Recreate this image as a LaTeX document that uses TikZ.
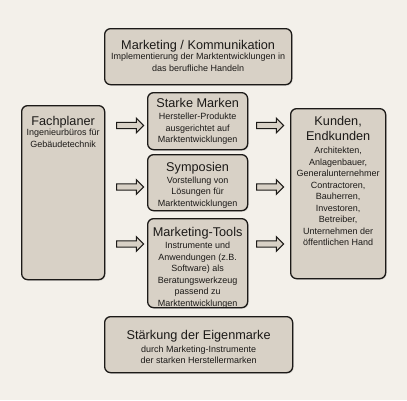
\documentclass[tikz,border=0pt]{standalone}
\usepackage{fontspec}
\setmainfont{Liberation Sans}
\usetikzlibrary{shapes.arrows,shadows}

\definecolor{paper}{RGB}{243,240,234}
\definecolor{boxfill}{RGB}{216,209,198}
\definecolor{boxline}{RGB}{28,26,24}

\newcommand{\headfont}{\fontsize{12.7}{15}\selectfont}
\tikzset{
    box/.style={draw=boxline, fill=boxfill, line width=1.3pt, rounded corners=6pt,
        inner sep=0pt, anchor=north west,
        drop shadow={shadow xshift=1pt, shadow yshift=-1pt, fill=black, opacity=0.15}},
    boxtext/.style={anchor=north, align=center, inner sep=0pt,
        font=\fontsize{9}{11.5}\selectfont, text=boxline},
    fatarrow/.style={single arrow, draw=boxline, fill=boxfill, line width=1pt,
        inner sep=2.6pt, single arrow head extend=4.2pt, minimum height=27pt},
}

\begin{document}
\begin{tikzpicture}[x=1pt,y=-1pt]

    \fill[paper] (0,0) rectangle (407,400);
    \useasboundingbox (0,0) rectangle (407,400);

    % boxes
    \node[box, minimum width=187pt, minimum height=56pt] (mk) at (104,28) {};
    \node[box, minimum width=83pt, minimum height=174pt] (fach) at (21,105) {};
    \node[box, minimum width=100pt, minimum height=57pt] (starke) at (147,92) {};
    \node[box, minimum width=100pt, minimum height=56pt] (sympo) at (147,154) {};
    \node[box, minimum width=100pt, minimum height=89pt] (tools) at (147,218) {};
    \node[box, minimum width=95pt, minimum height=170pt] (kunden) at (290,108) {};
    \node[box, minimum width=188pt, minimum height=56pt] (eigen) at (104,316) {};

    % texts
    \node[boxtext] (mk-t) at ([yshift=-12.5pt]mk.north)
        {{\headfont Marketing / Kommunikation}\\[-1.5pt]
         Implementierung der Marktentwicklungen in\\das berufliche Handeln};
    \node[boxtext] (fach-t) at ([yshift=-11pt]fach.north)
        {{\headfont Fachplaner}\\[-1pt]Ingenieurbüros für\\Gebäudetechnik};
    \node[boxtext] (starke-t) at ([yshift=-6.5pt]starke.north)
        {{\headfont Starke Marken}\\[0.5pt]Hersteller-Produkte\\ausgerichtet auf\\Marktentwicklungen};
    \node[boxtext] (sympo-t) at ([yshift=-8pt]sympo.north)
        {{\headfont Symposien}\\[0.5pt]Vorstellung von\\Lösungen für\\Marktentwicklungen};
    \node[boxtext] (tools-t) at ([yshift=-9.5pt]tools.north)
        {{\headfont Marketing-Tools}\\[0.5pt]Instrumente und\\Anwendungen (z.B.\\Software) als\\
         Beratungswerkzeug\\passend zu\\Marktentwicklungen};
    \node[boxtext] (kunden-t) at ([yshift=-8.5pt]kunden.north)
        {{\headfont Kunden,}\\[3.5pt]{\headfont Endkunden}\\[1.5pt]Architekten,\\Anlagenbauer,\\
         Generalunternehmer\\Contractoren,\\Bauherren,\\Investoren,\\Betreiber,\\
         Unternehmen der\\öffentlichen Hand};
    \node[boxtext] (eigen-t) at ([yshift=-14.5pt]eigen.north)
        {{\headfont Stärkung der Eigenmarke}\\[1pt]durch Marketing-Instrumente\\der starken Herstellermarken};

    % arrows
    \node[fatarrow] (in1) at (128.5,125.5) {};
    \node[fatarrow] (in2) at (128.5,187) {};
    \node[fatarrow] (in3) at (128.5,244) {};
    \node[fatarrow] (out1) at (268.5,125.5) {};
    \node[fatarrow] (out2) at (268.5,187) {};
    \node[fatarrow] (out3) at (268.5,244) {};

\end{tikzpicture}
\end{document}
